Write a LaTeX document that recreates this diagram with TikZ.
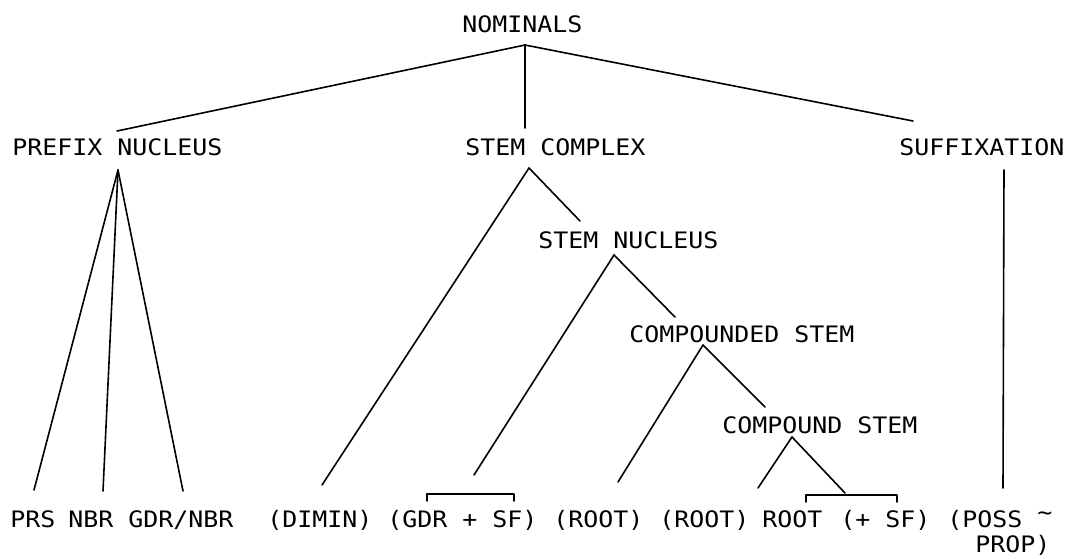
\documentclass[tikz,border=0pt]{standalone}
\usepackage{fontspec}
\newfontfamily\plotfont[FakeStretch=1.1]{DejaVu Sans Mono}
\begin{document}
\begin{tikzpicture}[x=0.75pt,y=-0.75pt,
  lbl/.style={anchor=base west,inner sep=0pt,font=\plotfont\fontsize{17pt}{20pt}\selectfont},
  edge/.style={line width=1.2pt,line cap=round,line join=round}]
\useasboundingbox (0,0) rectangle (1076,558);
% labels
\node[lbl] (nom) at (462,32) {NOMINALS};
\node[lbl] (pfx) at (12,155) {PREFIX NUCLEUS};
\node[lbl] (stc) at (465,155) {STEM COMPLEX};
\node[lbl] (suf) at (899,155) {SUFFIXATION};
\node[lbl] (stn) at (538,248) {STEM NUCLEUS};
\node[lbl] (cpd) at (629,342) {COMPOUNDED STEM};
\node[lbl] (cps) at (722,433) {COMPOUND STEM};
\node[lbl] (prs) at (10,527) {PRS};
\node[lbl] (nbr) at (68,527) {NBR};
\node[lbl] (gdn) at (128,527) {GDR/NBR};
\node[lbl] (dim) at (267,527) {(DIMIN)};
\node[lbl] (gsf) at (387,527) {(GDR + SF)};
\node[lbl] (rta) at (553,527) {(ROOT)};
\node[lbl] (rtb) at (659,527) {(ROOT)};
\node[lbl] (rtc) at (762,527) {ROOT};
\node[lbl] (psf) at (840,527) {(+ SF)};
\node[lbl] (pos) at (947,527) {(POSS \raisebox{0.3em}{\textasciitilde}};
\node[lbl] (prp) at (975,552) {PROP)};
% connector points
\coordinate (nomA) at (525,45);
\coordinate (pfxT) at (117,131);
\coordinate (stcT) at (525,128);
\coordinate (sufT) at (913,121);
\coordinate (pfxA) at (118,170);
\coordinate (prsT) at (34,490);
\coordinate (nbrT) at (103,491);
\coordinate (gdnT) at (183,491);
\coordinate (stcA) at (529,168);
\coordinate (dimT) at (322,485);
\coordinate (stnT) at (580,221);
\coordinate (stnA) at (614,255);
\coordinate (gsfT) at (474,475);
\coordinate (cpdT) at (675,317);
\coordinate (cpdA) at (703,345);
\coordinate (rtbT) at (618,482);
\coordinate (cpsT) at (765,407);
\coordinate (cpsA) at (792,437);
\coordinate (rtcT) at (758,488);
\coordinate (psfT) at (845,493);
\coordinate (sufA) at (1004,170);
\coordinate (posT) at (1003,488);
% tree edges
\draw[edge] (nomA) -- (pfxT);
\draw[edge] (nomA) -- (stcT);
\draw[edge] (nomA) -- (sufT);
\draw[edge] (pfxA) -- (prsT);
\draw[edge] (pfxA) -- (nbrT);
\draw[edge] (pfxA) -- (gdnT);
\draw[edge] (stcA) -- (dimT);
\draw[edge] (stcA) -- (stnT);
\draw[edge] (stnA) -- (gsfT);
\draw[edge] (stnA) -- (cpdT);
\draw[edge] (cpdA) -- (rtbT);
\draw[edge] (cpdA) -- (cpsT);
\draw[edge] (cpsA) -- (rtcT);
\draw[edge] (cpsA) -- (psfT);
\draw[edge] (sufA) -- (posT);
% brackets
\draw[edge] (427,501) -- (427,494) -- (514,494) -- (514,501);
\draw[edge] (806,502) -- (806,495) -- (897,495) -- (897,502);
\end{tikzpicture}
\end{document}
